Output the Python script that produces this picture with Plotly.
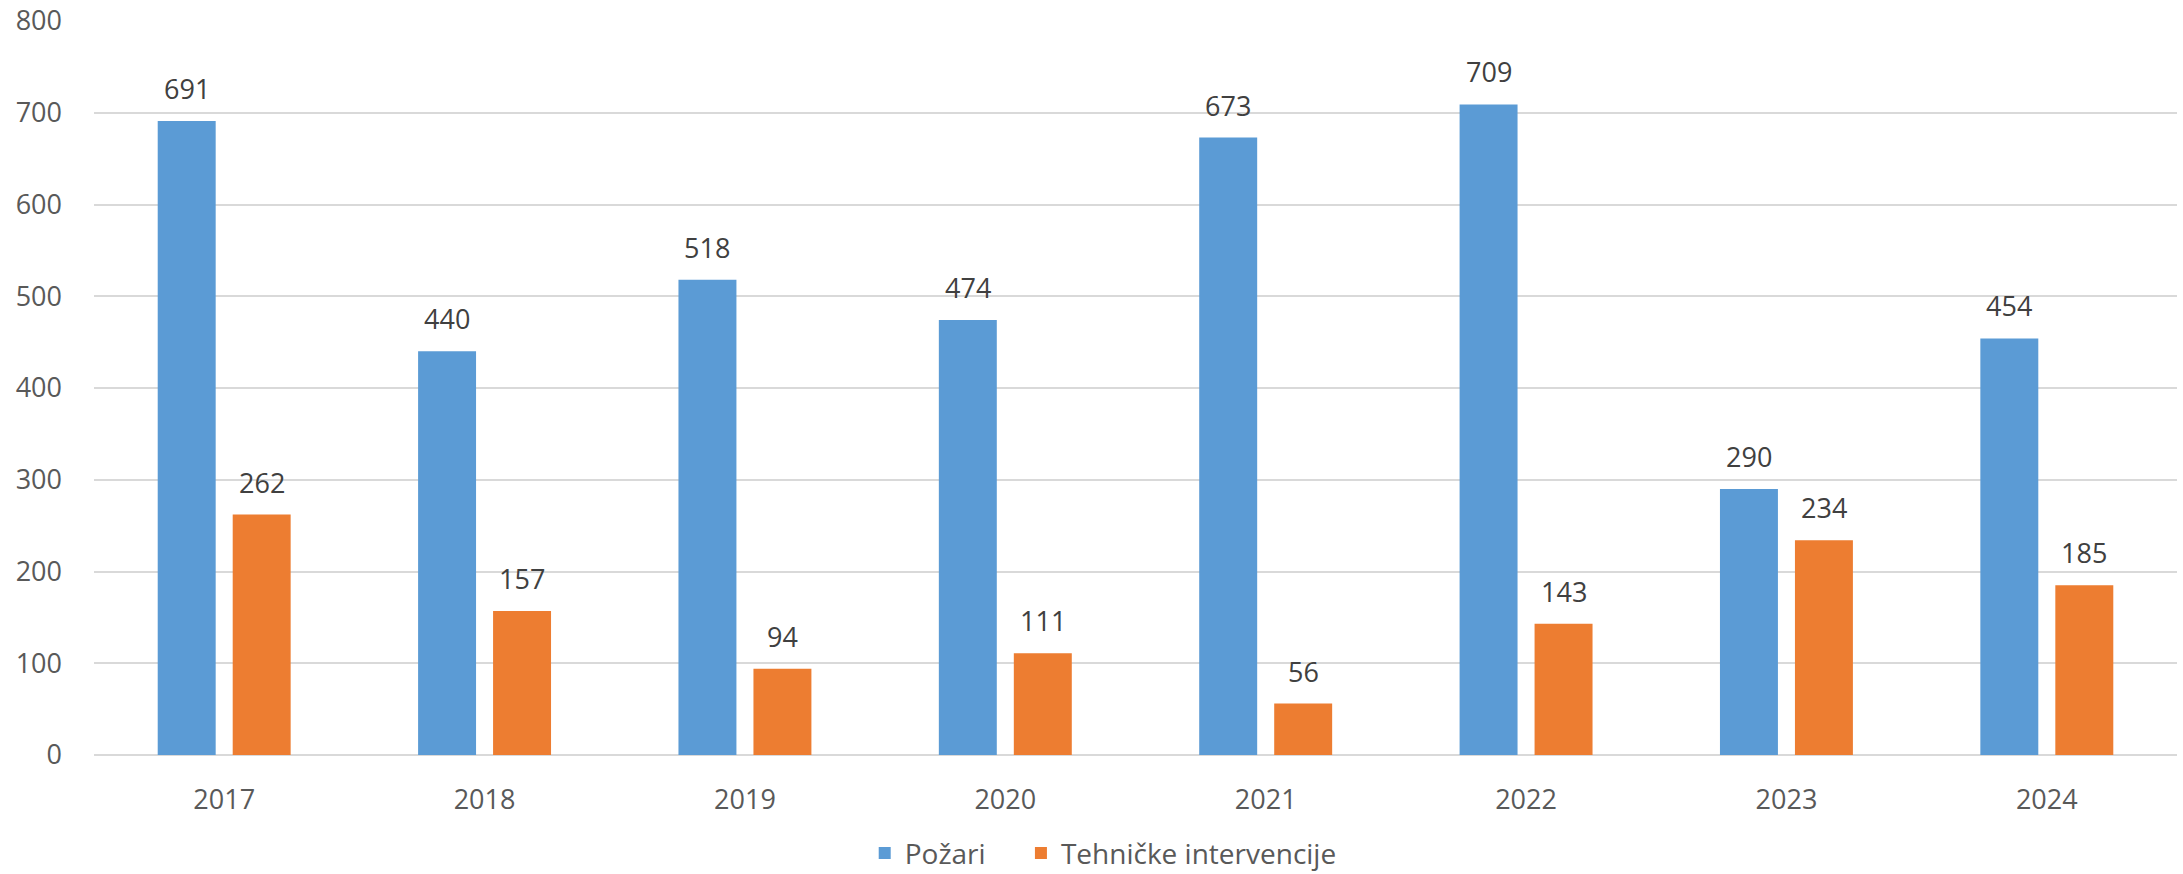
import plotly.graph_objects as go

years = ["2017", "2018", "2019", "2020", "2021", "2022", "2023", "2024"]
pozari = [691, 440, 518, 474, 673, 709, 290, 454]
tehnicke = [262, 157, 94, 111, 56, 143, 234, 185]
series_names = ["Požari", "Tehničke intervencije"]
colors = ["#5B9BD5", "#ED7D31"]
FONT = "Open Sans"

fig = go.Figure()
for name, vals, col, lg in zip(series_names, [pozari, tehnicke], colors, ["legend", "legend2"]):
    fig.add_trace(go.Bar(x=years, y=vals, name=name, marker_color=col,
                         marker_line_width=0, legend=lg))

annotations = []
for vals, shift in [(pozari, -37.5), (tehnicke, 37.5)]:
    for i, v in enumerate(vals):
        annotations.append(dict(x=i, y=v, xref="x", yref="y", text=str(v),
                                showarrow=False, xshift=shift, yshift=12,
                                yanchor="bottom",
                                font=dict(family=FONT, size=27, color="#404040")))

legend_style = dict(orientation="h", xanchor="left", y=-0.134, yanchor="middle",
                    font=dict(family=FONT, size=28, color="#595959"),
                    itemwidth=30, bgcolor="rgba(0,0,0,0)")

fig.update_layout(
    width=2183, height=874,
    margin=dict(l=94, r=6, t=21, b=119, autoexpand=False),
    paper_bgcolor="white", plot_bgcolor="white",
    barmode="group", bargap=0.424, bargroupgap=0.227,
    font=dict(family=FONT, size=27, color="#595959"),
    annotations=annotations,
    showlegend=True,
    legend=dict(x=0.370, **legend_style),
    legend2=dict(x=0.445, **legend_style),
)
fig.update_xaxes(type="category", range=[-0.5, len(years) - 0.5], autorange=False,
                 automargin=False, showgrid=False, showline=False, ticks="",
                 ticklabelstandoff=26,
                 tickfont=dict(family=FONT, size=27, color="#595959"))
fig.update_yaxes(range=[0, 800], dtick=100, showgrid=True, gridcolor="#D9D9D9",
                 gridwidth=1.5, zeroline=True, zerolinecolor="#D9D9D9", zerolinewidth=1.5,
                 automargin=False, showline=False, ticks="", ticklabelstandoff=31,
                 tickfont=dict(family=FONT, size=27, color="#595959"))

fig.write_html("out.html", config={"displayModeBar": False},
               post_script="document.body.style.margin='0';document.body.style.overflow='hidden';")
